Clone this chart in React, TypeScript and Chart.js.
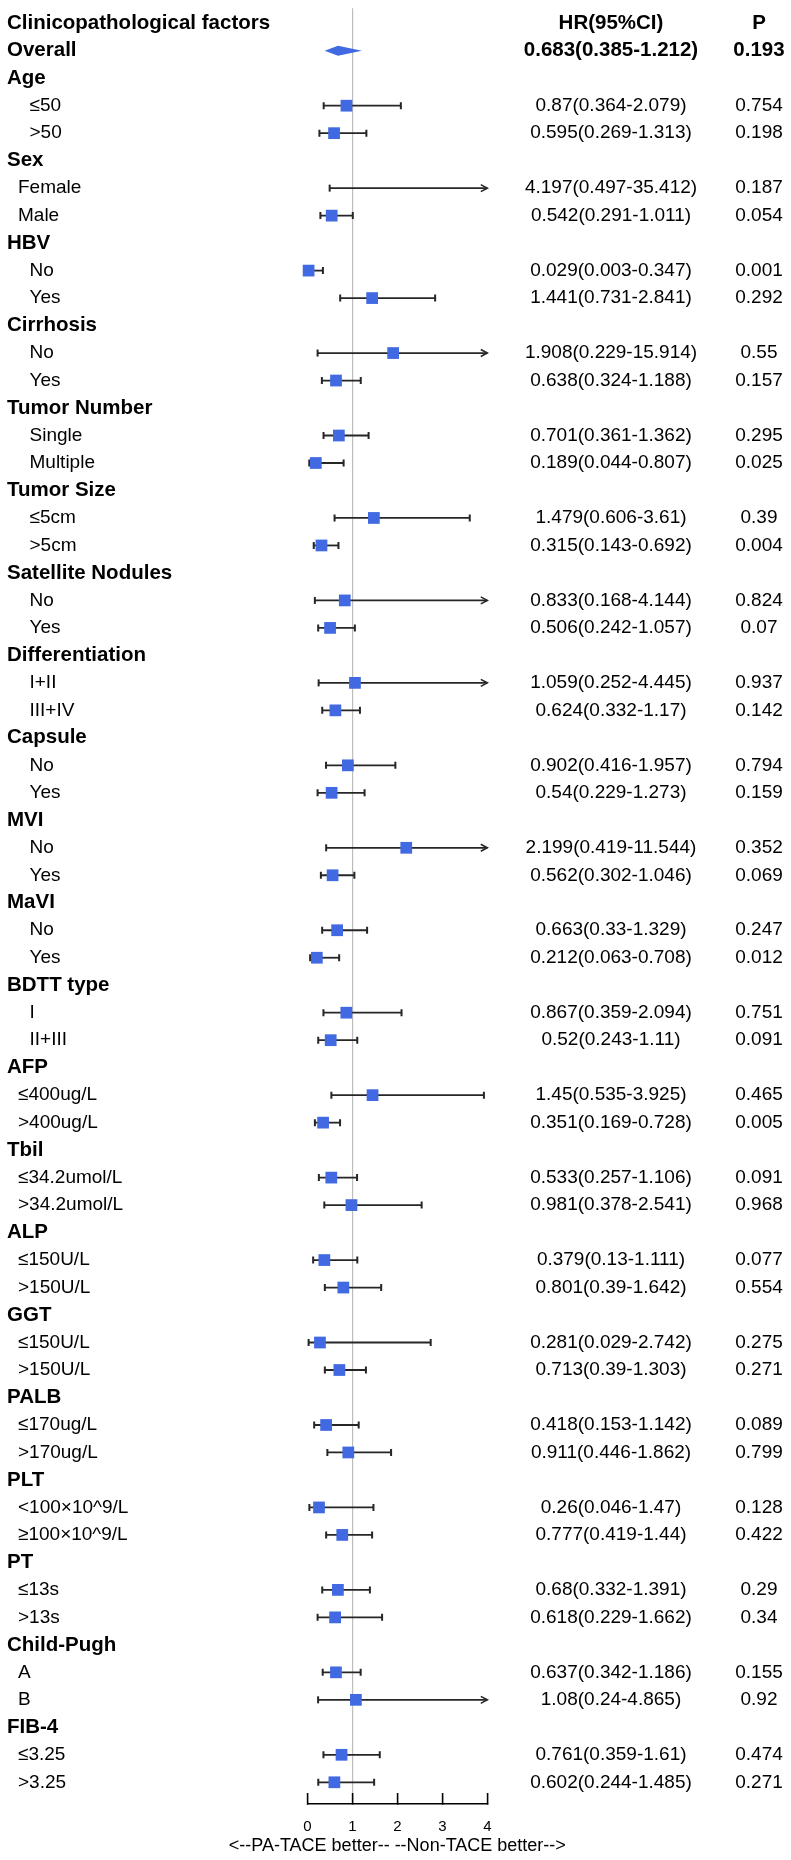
import React, { useEffect, useRef } from "react";
import { Chart, registerables } from "chart.js";
Chart.register(...registerables);

// ---------- DATA ----------
const rowLabels = [
  "Clinicopathological factors", "Overall",
  "Age", "≤50", ">50",
  "Sex", "Female", "Male",
  "HBV", "No", "Yes",
  "Cirrhosis", "No", "Yes",
  "Tumor Number", "Single", "Multiple",
  "Tumor Size", "≤5cm", ">5cm",
  "Satellite Nodules", "No", "Yes",
  "Differentiation", "I+II", "III+IV",
  "Capsule", "No", "Yes",
  "MVI", "No", "Yes",
  "MaVI", "No", "Yes",
  "BDTT type", "I", "II+III",
  "AFP", "≤400ug/L", ">400ug/L",
  "Tbil", "≤34.2umol/L", ">34.2umol/L",
  "ALP", "≤150U/L", ">150U/L",
  "GGT", "≤150U/L", ">150U/L",
  "PALB", "≤170ug/L", ">170ug/L",
  "PLT", "<100×10^9/L", "≥100×10^9/L",
  "PT", "≤13s", ">13s",
  "Child-Pugh", "A", "B",
  "FIB-4", "≤3.25", ">3.25",
];

// t = title, o = overall, g = group header, a = sub-item (small indent), b = sub-item (large indent)
const rowKinds = [
  "t", "o",
  "g", "b", "b",
  "g", "a", "a",
  "g", "b", "b",
  "g", "b", "b",
  "g", "b", "b",
  "g", "b", "b",
  "g", "b", "b",
  "g", "b", "b",
  "g", "b", "b",
  "g", "b", "b",
  "g", "b", "b",
  "g", "b", "b",
  "g", "a", "a",
  "g", "a", "a",
  "g", "a", "a",
  "g", "a", "a",
  "g", "a", "a",
  "g", "a", "a",
  "g", "a", "a",
  "g", "a", "a",
  "g", "a", "a",
];

const hrValues: (number | null)[] = [
  null, 0.683,
  null, 0.87, 0.595,
  null, 4.197, 0.542,
  null, 0.029, 1.441,
  null, 1.908, 0.638,
  null, 0.701, 0.189,
  null, 1.479, 0.315,
  null, 0.833, 0.506,
  null, 1.059, 0.624,
  null, 0.902, 0.54,
  null, 2.199, 0.562,
  null, 0.663, 0.212,
  null, 0.867, 0.52,
  null, 1.45, 0.351,
  null, 0.533, 0.981,
  null, 0.379, 0.801,
  null, 0.281, 0.713,
  null, 0.418, 0.911,
  null, 0.26, 0.777,
  null, 0.68, 0.618,
  null, 0.637, 1.08,
  null, 0.761, 0.602,
];

const lowerCI: (number | null)[] = [
  null, 0.385,
  null, 0.364, 0.269,
  null, 0.497, 0.291,
  null, 0.003, 0.731,
  null, 0.229, 0.324,
  null, 0.361, 0.044,
  null, 0.606, 0.143,
  null, 0.168, 0.242,
  null, 0.252, 0.332,
  null, 0.416, 0.229,
  null, 0.419, 0.302,
  null, 0.33, 0.063,
  null, 0.359, 0.243,
  null, 0.535, 0.169,
  null, 0.257, 0.378,
  null, 0.13, 0.39,
  null, 0.029, 0.39,
  null, 0.153, 0.446,
  null, 0.046, 0.419,
  null, 0.332, 0.229,
  null, 0.342, 0.24,
  null, 0.359, 0.244,
];

const upperCI: (number | null)[] = [
  null, 1.212,
  null, 2.079, 1.313,
  null, 35.412, 1.011,
  null, 0.347, 2.841,
  null, 15.914, 1.188,
  null, 1.362, 0.807,
  null, 3.61, 0.692,
  null, 4.144, 1.057,
  null, 4.445, 1.17,
  null, 1.957, 1.273,
  null, 11.544, 1.046,
  null, 1.329, 0.708,
  null, 2.094, 1.11,
  null, 3.925, 0.728,
  null, 1.106, 2.541,
  null, 1.111, 1.642,
  null, 2.742, 1.303,
  null, 1.142, 1.862,
  null, 1.47, 1.44,
  null, 1.391, 1.662,
  null, 1.186, 4.865,
  null, 1.61, 1.485,
];

const pValues: (number | null)[] = [
  null, 0.193,
  null, 0.754, 0.198,
  null, 0.187, 0.054,
  null, 0.001, 0.292,
  null, 0.55, 0.157,
  null, 0.295, 0.025,
  null, 0.39, 0.004,
  null, 0.824, 0.07,
  null, 0.937, 0.142,
  null, 0.794, 0.159,
  null, 0.352, 0.069,
  null, 0.247, 0.012,
  null, 0.751, 0.091,
  null, 0.465, 0.005,
  null, 0.091, 0.968,
  null, 0.077, 0.554,
  null, 0.275, 0.271,
  null, 0.089, 0.799,
  null, 0.128, 0.422,
  null, 0.29, 0.34,
  null, 0.155, 0.92,
  null, 0.474, 0.271,
];

const headerHR = "HR(95%CI)";
const headerP = "P";
const xTickValues = [0, 1, 2, 3, 4];
const xAxisTitle = "<--PA-TACE better-- --Non-TACE better-->";

// ---------- STYLE ----------
const FONT = "'Liberation Sans', Arial, sans-serif";
const BLUE = "#4169E1";
const X_MIN = 0;
const X_MAX = 4;

const forestPlugin = {
  id: "forest",
  beforeDatasetsDraw(chart: any) {
    const { ctx, scales } = chart;
    const xs = scales.x;
    const ys = scales.y;
    ctx.save();
    for (let i = 0; i < rowLabels.length; i++) {
      const hr = hrValues[i];
      const lo = lowerCI[i];
      const hi = upperCI[i];
      if (hr == null || lo == null || hi == null) continue;
      const yy = ys.getPixelForValue(i);
      if (rowKinds[i] === "o") {
        ctx.fillStyle = BLUE;
        ctx.beginPath();
        ctx.moveTo(xs.getPixelForValue(lo), yy);
        ctx.lineTo(xs.getPixelForValue(hr), yy - 5);
        ctx.lineTo(xs.getPixelForValue(hi), yy);
        ctx.lineTo(xs.getPixelForValue(hr), yy + 5);
        ctx.closePath();
        ctx.fill();
        continue;
      }
      const arrowR = hi > X_MAX;
      const x1 = xs.getPixelForValue(Math.max(lo, X_MIN));
      const x2 = xs.getPixelForValue(Math.min(hi, X_MAX));
      ctx.strokeStyle = "#262626";
      ctx.lineWidth = 1.8;
      ctx.beginPath();
      ctx.moveTo(x1, yy);
      ctx.lineTo(x2, yy);
      ctx.stroke();
      ctx.lineWidth = 2;
      ctx.beginPath();
      ctx.moveTo(x1, yy - 3.5);
      ctx.lineTo(x1, yy + 3.5);
      if (!arrowR) {
        ctx.moveTo(x2, yy - 3.5);
        ctx.lineTo(x2, yy + 3.5);
      }
      ctx.stroke();
      if (arrowR) {
        ctx.lineWidth = 1.6;
        ctx.beginPath();
        ctx.moveTo(x2 - 6.5, yy - 3.5);
        ctx.lineTo(x2, yy);
        ctx.lineTo(x2 - 6.5, yy + 3.5);
        ctx.stroke();
      }
    }
    ctx.restore();
  },
  afterDraw(chart: any) {
    const { ctx, scales } = chart;
    const xs = scales.x;
    const ys = scales.y;
    ctx.save();
    ctx.fillStyle = "#000";
    ctx.textBaseline = "middle";
    const boldF = `bold 20.5px ${FONT}`;
    const regF = `19px ${FONT}`;
    const hrX = 611;
    const pX = 759;
    for (let i = 0; i < rowLabels.length; i++) {
      const yy = ys.getPixelForValue(i);
      const kind = rowKinds[i];
      const bold = kind === "t" || kind === "o" || kind === "g";
      ctx.font = bold ? boldF : regF;
      ctx.textAlign = "left";
      const lx = kind === "a" ? 18 : kind === "b" ? 29.5 : 7;
      ctx.fillText(rowLabels[i], lx, yy);
      ctx.textAlign = "center";
      if (kind === "t") {
        ctx.fillText(headerHR, hrX, yy);
        ctx.fillText(headerP, pX, yy);
        continue;
      }
      const hr = hrValues[i];
      if (hr == null) continue;
      ctx.font = kind === "o" ? boldF : regF;
      ctx.fillText(`${hr}(${lowerCI[i]}-${upperCI[i]})`, hrX, yy);
      ctx.fillText(`${pValues[i]}`, pX, yy);
    }
    // axis title (drawn unconstrained so it can extend beyond the axis width)
    ctx.font = `18px ${FONT}`;
    ctx.textAlign = "center";
    ctx.fillText(xAxisTitle, (xs.left + xs.right) / 2, 1846);
    ctx.restore();
  },
};

export default function App() {
  const ref = useRef<HTMLCanvasElement | null>(null);
  useEffect(() => {
    document.body.style.margin = "0";
    if (!ref.current) return;
    const points: { x: number; y: number }[] = [];
    for (let i = 0; i < rowLabels.length; i++) {
      const hr = hrValues[i];
      if (hr == null || rowKinds[i] === "o") continue;
      if (hr < X_MIN || hr > X_MAX) continue;
      points.push({ x: hr, y: i });
    }
    const chart = new Chart(ref.current, {
      type: "scatter",
      data: {
        datasets: [
          {
            data: points,
            pointStyle: "rect",
            pointRadius: 8.3,
            pointHoverRadius: 8.3,
            backgroundColor: BLUE,
            borderColor: BLUE,
            borderWidth: 0,
            clip: false,
          } as any,
        ],
      },
      options: {
        responsive: false,
        devicePixelRatio: 1,
        animation: false,
        events: [],
        layout: { padding: { left: 307.3, right: 791 - 487.3, top: 0, bottom: 0 } },
        plugins: { legend: { display: false }, tooltip: { enabled: false } },
        scales: {
          x: {
            type: "linear",
            position: "bottom",
            min: X_MIN,
            max: X_MAX,
            afterBuildTicks: (scale: any) => {
              scale.ticks = xTickValues.map((v) => ({ value: v }));
            },
            ticks: {
              color: "#000",
              font: { family: FONT, size: 15 },
              padding: 25,
              autoSkip: false,
              maxRotation: 0,
            },
            grid: {
              color: (c: any) => (c.tick && c.tick.value === 1 ? "#BDBDBD" : "rgba(0,0,0,0)"),
              lineWidth: 1.2,
              drawOnChartArea: true,
              drawTicks: true,
              tickLength: -11,
              tickColor: "#000",
              tickWidth: 1.6,
            },
            border: { display: true, color: "#000", width: 1.6 },
            title: { display: false },
            afterFit: (scale: any) => {
              scale.height = 56;
            },
          },
          y: {
            type: "linear",
            display: false,
            reverse: true,
            min: -0.543,
            max: 64.79,
          },
        },
      },
      plugins: [forestPlugin],
    });
    return () => chart.destroy();
  }, []);
  return (
    <div style={{ position: "absolute", left: 0, top: 0, width: 791, height: 1860 }}>
      <canvas ref={ref} width={791} height={1860} style={{ display: "block", width: 791, height: 1860 }} />
    </div>
  );
}
